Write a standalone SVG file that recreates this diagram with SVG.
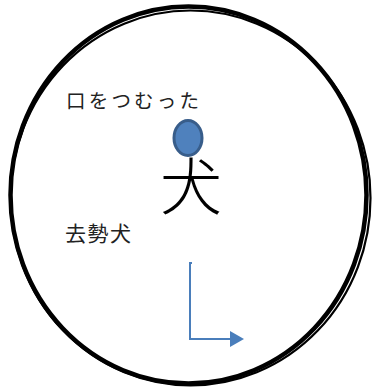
<svg xmlns="http://www.w3.org/2000/svg" width="373" height="389" viewBox="0 0 373 389">
<style>
.ring{fill:none;stroke:#000}
.lbl{font-family:"Noto Sans CJK JP","Noto Sans CJK SC",sans-serif;fill:#222}
.conn{fill:none;stroke:#4a7ebb;stroke-width:2}
</style>
<defs>
<marker id="ah" markerWidth="14" markerHeight="16" refX="0" refY="8" orient="auto" markerUnits="userSpaceOnUse">
<path d="M0,0 L14,8 L0,16 Z" fill="#4a7ebb"/>
</marker>
</defs>
<rect width="373" height="389" fill="#fff"/>
<g id="circle">
<ellipse class="ring" cx="188.5" cy="195" rx="178" ry="188.5" stroke-width="4.5"/>
<ellipse class="ring" cx="190.5" cy="198" rx="180" ry="187.5" stroke-width="2.2"/>
</g>
<g id="label-mouth">
<text class="lbl" x="66" y="108" font-size="19.5" letter-spacing="3.2">口をつむった</text>
</g>
<g id="dog">
<text x="191" y="210" font-family="'Noto Sans CJK JP',sans-serif" font-size="62" font-weight="300" text-anchor="middle" fill="#000">犬</text>
<ellipse cx="188" cy="138" rx="14" ry="17.5" fill="#4f81bd" stroke="#385d8a" stroke-width="3"/>
</g>
<g id="label-neutered">
<text class="lbl" x="65" y="241" font-size="21" letter-spacing="1.5">去勢犬</text>
</g>
<g id="connectors">
<path class="conn" d="M192,263 L190,263 L190,339 L230,339" marker-end="url(#ah)"/>
</g>
</svg>
